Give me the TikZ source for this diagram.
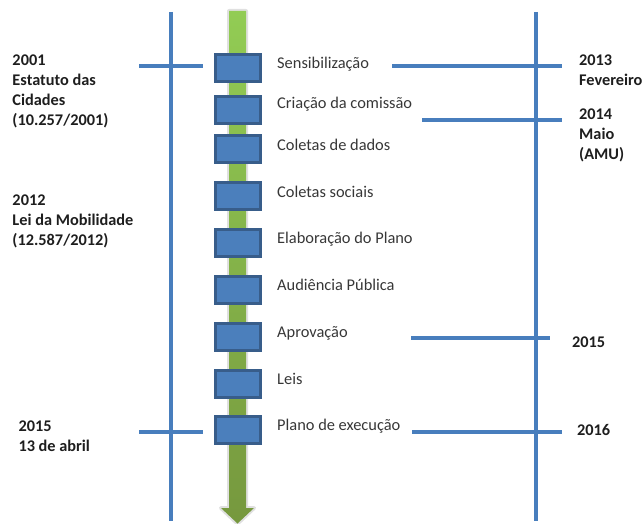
\documentclass[tikz,border=0pt]{standalone}
\usepackage{fontspec}
\setmainfont{Carlito}
\definecolor{lineblue}{RGB}{72,126,189}
\definecolor{boxfill}{RGB}{75,127,188}
\definecolor{boxedge}{RGB}{56,93,138}
\definecolor{greentop}{RGB}{146,204,84}
\definecolor{greenbot}{RGB}{118,152,62}
\definecolor{txtgray}{RGB}{55,55,55}
\definecolor{txtdark}{RGB}{30,30,30}
\begin{document}
\begin{tikzpicture}[x=1pt,y=-1pt,
  vline/.style={draw=lineblue, line width=4.5pt},
  tickline/.style={draw=lineblue, line width=3.8pt},
  stepbox/.style={draw=boxedge, fill=boxfill, line width=3pt, minimum width=45pt, minimum height=27pt, inner sep=0pt},
  steplabel/.style={anchor=base west, inner sep=0pt, text=txtgray, font=\fontsize{16.4}{20}\selectfont},
  datelabel/.style={anchor=north west, inner sep=0pt, align=left, text=txtdark, font=\fontsize{16.3}{20.3}\selectfont\bfseries},
  dateone/.style={anchor=base west, inner sep=0pt, text=txtdark, font=\fontsize{16.3}{20.3}\selectfont\bfseries}]
\useasboundingbox (0,0) rectangle (643,524);

% green arrow (timeline)
\draw[black, opacity=0.12, line width=4pt, line join=round]
  (229,11) -- (246,11) -- (246,508) -- (254,508) -- (237.5,523.5) -- (221,508) -- (229,508) -- cycle;
\shade[top color=greentop, bottom color=greenbot]
  (229,11) -- (246,11) -- (246,508) -- (254,508) -- (237.5,523.5) -- (221,508) -- (229,508) -- cycle;

% vertical lines
\coordinate (lt) at (171,12);
\coordinate (lb) at (171,521);
\coordinate (rt) at (536,12);
\coordinate (rb) at (536,521);
\draw[vline] (lt) -- (lb);
\draw[vline] (rt) -- (rb);

% tick lines
\coordinate (l1a) at (139,66);  \coordinate (l1b) at (203,66);
\coordinate (r1a) at (392,66);  \coordinate (r1b) at (562,66);
\coordinate (r2a) at (422,120); \coordinate (r2b) at (562,120);
\coordinate (r3a) at (411,338); \coordinate (r3b) at (550,338);
\coordinate (l4a) at (139,432); \coordinate (l4b) at (203,432);
\coordinate (r4a) at (412,432); \coordinate (r4b) at (562,432);
\draw[tickline] (l1a) -- (l1b);
\draw[tickline] (r1a) -- (r1b);
\draw[tickline] (r2a) -- (r2b);
\draw[tickline] (r3a) -- (r3b);
\draw[tickline] (l4a) -- (l4b);
\draw[tickline] (r4a) -- (r4b);

% step boxes
\node[stepbox] (b1) at (237.5,68.3) {};
\node[stepbox] (b2) at (237.5,110.3) {};
\node[stepbox] (b3) at (237.5,149.5) {};
\node[stepbox] (b4) at (237.5,196.5) {};
\node[stepbox] (b5) at (237.5,243) {};
\node[stepbox] (b6) at (237.5,290) {};
\node[stepbox] (b7) at (237.5,336.5) {};
\node[stepbox] (b8) at (237.5,383.5) {};
\node[stepbox] (b9) at (237.5,430) {};

% step labels
\node[steplabel] (s1) at (277,68.5) {Sensibilização};
\node[steplabel] (s2) at (277,108.5) {Criação da comissão};
\node[steplabel] (s3) at (277,150.5) {Coletas de dados};
\node[steplabel] (s4) at (277,197.5) {Coletas sociais};
\node[steplabel] (s5) at (277,243.5) {Elaboração do Plano};
\node[steplabel] (s6) at (277,290.5) {Audiência Pública};
\node[steplabel] (s7) at (277,337.5) {Aprovação};
\node[steplabel] (s8) at (277,384.5) {Leis};
\node[steplabel] (s9) at (277,430.5) {Plano de execução};

% date labels
\node[datelabel] (d1) at (12.3,54.2) {2001\\Estatuto das\\Cidades\\(10.257/2001)};
\node[datelabel] (d2) at (12.3,194.2) {2012\\Lei da Mobilidade\\(12.587/2012)};
\node[datelabel] (d3) at (18.3,420.2) {2015\\13 de abril};
\node[datelabel] (d4) at (579,54.2) {2013\\Fevereiro};
\node[datelabel] (d5) at (579,108.2) {2014\\Maio\\(AMU)};
\node[dateone] (d6) at (572,347.5) {2015};
\node[dateone] (d7) at (577,435.5) {2016};
\end{tikzpicture}
\end{document}
